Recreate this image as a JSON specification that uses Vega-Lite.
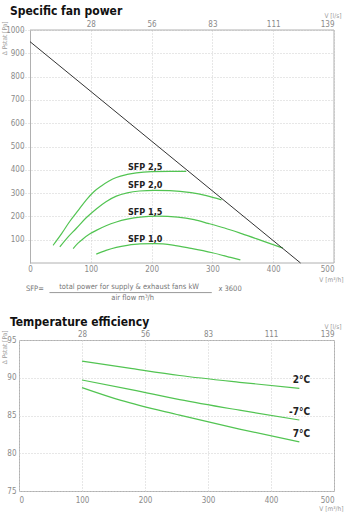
{
  "$schema": "https://vega.github.io/schema/vega-lite/v6.json",
  "background": "white",
  "padding": {"left": 0, "top": 5, "right": 0, "bottom": 0},
  "spacing": 13,
  "config": {
    "font": "DejaVu Sans Condensed",
    "view": {"stroke": "#b0b0b0", "strokeWidth": 1},
    "axis": {
      "labelFont": "DejaVu Sans Condensed",
      "labelFontSize": 8,
      "labelColor": "#8a8a8a",
      "labelOverlap": false,
      "ticks": false,
      "domain": false,
      "domainColor": "#b0b0b0",
      "gridColor": "#cfcfcf",
      "gridDash": [1, 2],
      "titleFont": "DejaVu Sans Condensed",
      "titleFontSize": 6.5,
      "titleFontWeight": "normal",
      "titleColor": "#9a9a9a"
    },
    "title": {"font": "DejaVu Sans Condensed", "fontSize": 12, "fontWeight": "bold", "color": "#111111", "anchor": "start"}
  },
  "vconcat": [
    {
      "title": {"text": "Specific fan power", "dx": 9, "offset": -6},
      "width": 315,
      "height": 233,
      "view": {"stroke": null},
      "resolve": {"axis": {"x": "independent"}},
      "encoding": {
        "y": {"field": "y", "type": "quantitative", "scale": {"domain": [0, 1000], "nice": false},
          "axis": {"values": [100, 200, 300, 400, 500, 600, 700, 800, 900, 1000], "format": "d", "grid": true, "domain": true, "offset": -11, "labelOverlap": false, "labelPadding": 6, "title": "Δ Pstat [Pa]", "titleX": -26, "titleY": -9, "titleAngle": -90, "titleAlign": "right", "titleBaseline": "middle"}}
      },
      "layer": [
        {
          "data": {"values": [
            {"s": "SFP 2,5", "x": 38, "y": 76}, {"s": "SFP 2,5", "x": 52, "y": 126}, {"s": "SFP 2,5", "x": 65, "y": 177}, {"s": "SFP 2,5", "x": 80, "y": 228}, {"s": "SFP 2,5", "x": 93, "y": 272}, {"s": "SFP 2,5", "x": 105, "y": 306}, {"s": "SFP 2,5", "x": 118, "y": 332}, {"s": "SFP 2,5", "x": 130, "y": 352}, {"s": "SFP 2,5", "x": 142, "y": 367}, {"s": "SFP 2,5", "x": 160, "y": 380}, {"s": "SFP 2,5", "x": 175, "y": 387}, {"s": "SFP 2,5", "x": 200, "y": 392}, {"s": "SFP 2,5", "x": 230, "y": 393}, {"s": "SFP 2,5", "x": 257, "y": 393},
            {"s": "SFP 2,0", "x": 49, "y": 69}, {"s": "SFP 2,0", "x": 62, "y": 110}, {"s": "SFP 2,0", "x": 76, "y": 148}, {"s": "SFP 2,0", "x": 92, "y": 193}, {"s": "SFP 2,0", "x": 109, "y": 232}, {"s": "SFP 2,0", "x": 125, "y": 263}, {"s": "SFP 2,0", "x": 142, "y": 287}, {"s": "SFP 2,0", "x": 160, "y": 301}, {"s": "SFP 2,0", "x": 180, "y": 309}, {"s": "SFP 2,0", "x": 205, "y": 312}, {"s": "SFP 2,0", "x": 230, "y": 311}, {"s": "SFP 2,0", "x": 265, "y": 302}, {"s": "SFP 2,0", "x": 290, "y": 289}, {"s": "SFP 2,0", "x": 315, "y": 271},
            {"s": "SFP 1,5", "x": 71, "y": 62}, {"s": "SFP 1,5", "x": 79, "y": 85}, {"s": "SFP 1,5", "x": 87, "y": 103}, {"s": "SFP 1,5", "x": 98, "y": 124}, {"s": "SFP 1,5", "x": 109, "y": 140}, {"s": "SFP 1,5", "x": 125, "y": 160}, {"s": "SFP 1,5", "x": 142, "y": 176}, {"s": "SFP 1,5", "x": 160, "y": 188}, {"s": "SFP 1,5", "x": 181, "y": 197}, {"s": "SFP 1,5", "x": 210, "y": 201}, {"s": "SFP 1,5", "x": 243, "y": 197}, {"s": "SFP 1,5", "x": 270, "y": 186}, {"s": "SFP 1,5", "x": 293, "y": 170}, {"s": "SFP 1,5", "x": 320, "y": 150}, {"s": "SFP 1,5", "x": 348, "y": 126}, {"s": "SFP 1,5", "x": 380, "y": 97}, {"s": "SFP 1,5", "x": 416, "y": 64},
            {"s": "SFP 1,0", "x": 109, "y": 38}, {"s": "SFP 1,0", "x": 125, "y": 54}, {"s": "SFP 1,0", "x": 142, "y": 67}, {"s": "SFP 1,0", "x": 160, "y": 76}, {"s": "SFP 1,0", "x": 181, "y": 82}, {"s": "SFP 1,0", "x": 205, "y": 83}, {"s": "SFP 1,0", "x": 235, "y": 77}, {"s": "SFP 1,0", "x": 265, "y": 63}, {"s": "SFP 1,0", "x": 300, "y": 44}, {"s": "SFP 1,0", "x": 330, "y": 24}, {"s": "SFP 1,0", "x": 346, "y": 13}
          ]},
          "mark": {"type": "line", "interpolate": "monotone", "color": "#52c452", "strokeWidth": 1.2},
          "encoding": {
            "detail": {"field": "s"},
            "x": {"field": "x", "type": "quantitative", "scale": {"domain": [-18.09, 500], "nice": false, "zero": false},
              "axis": {"orient": "bottom", "values": [0, 100, 200, 300, 400, 500], "grid": true, "labelOverlap": false, "labelPadding": 2, "title": "V [m³/h]", "titleX": 324, "titleY": 16, "titleAlign": "right", "titleBaseline": "middle"}}
          }
        },
        {
          "data": {"values": [{"x": 0, "x2": 500, "y": 0, "y2": 0}, {"x": 0, "x2": 500, "y": 1000, "y2": 1000}, {"x": 500, "x2": 500, "y": 0, "y2": 1000}]},
          "mark": {"type": "rule", "color": "#b0b0b0", "strokeWidth": 1},
          "encoding": {
            "x": {"field": "x", "type": "quantitative", "axis": null},
            "x2": {"field": "x2"},
            "y2": {"field": "y2"}
          }
        },
        {
          "data": {"values": [{"x": 0, "y": 950}, {"x": 445, "y": 0}]},
          "mark": {"type": "line", "color": "#333333", "strokeWidth": 1},
          "encoding": {
            "x": {"field": "x", "type": "quantitative",
              "axis": {"orient": "top", "values": [100, 200, 300, 400, 500], "grid": false, "labelOverlap": false, "labelPadding": 2,
                "labelExpr": "datum.value == 100 ? '28' : datum.value == 200 ? '56' : datum.value == 300 ? '83' : datum.value == 400 ? '111' : '139'",
                "title": "V [l/s]", "titleX": 322, "titleY": -15, "titleAlign": "right", "titleBaseline": "middle"}}
          }
        },
        {
          "data": {"values": [
            {"t": "SFP 2,5", "x": 161, "y": 413}, {"t": "SFP 2,0", "x": 161, "y": 334}, {"t": "SFP 1,5", "x": 161, "y": 220}, {"t": "SFP 1,0", "x": 161, "y": 101}
          ]},
          "mark": {"type": "text", "align": "left", "baseline": "middle", "font": "DejaVu Sans Condensed", "fontSize": 9, "fontWeight": "bold", "color": "#222222"},
          "encoding": {
            "x": {"field": "x", "type": "quantitative", "axis": null},
            "text": {"field": "t"}
          }
        },
        {
          "data": {"values": [
            {"t": "SFP=", "x": 8, "y": -112}, {"t": "total power for supply & exhaust fans kW", "x": 163, "y": -101}, {"t": "air flow m³/h", "x": 169, "y": -151}, {"t": "x 3600", "x": 329, "y": -112}
          ]},
          "mark": {"type": "text", "align": "center", "baseline": "middle", "font": "DejaVu Sans Condensed", "fontSize": 7.5, "color": "#777777"},
          "encoding": {
            "x": {"field": "x", "type": "quantitative", "axis": null},
            "text": {"field": "t"}
          }
        },
        {
          "data": {"values": [{"x": 32, "x2": 299, "y": -127}]},
          "mark": {"type": "rule", "color": "#999999", "strokeWidth": 1},
          "encoding": {
            "x": {"field": "x", "type": "quantitative", "axis": null},
            "x2": {"field": "x2"}
          }
        }
      ]
    },
    {
      "title": {"text": "Temperature efficiency", "dx": 9, "offset": -6},
      "width": 315,
      "height": 151,
      "resolve": {"axis": {"x": "independent"}},
      "encoding": {
        "y": {"field": "y", "type": "quantitative", "scale": {"domain": [75, 95], "nice": false, "zero": false},
          "axis": {"values": [75, 80, 85, 90, 95], "grid": true, "labelOverlap": false, "labelPadding": 3, "title": "Δ Pstat [Pa]", "titleX": -15, "titleY": -10, "titleAngle": -90, "titleAlign": "right", "titleBaseline": "middle"}}
      },
      "layer": [
        {
          "data": {"values": [
            {"s": "2°C", "x": 100, "y": 92.2}, {"s": "2°C", "x": 180, "y": 91.2}, {"s": "2°C", "x": 255, "y": 90.3}, {"s": "2°C", "x": 350, "y": 89.4}, {"s": "2°C", "x": 445, "y": 88.6},
            {"s": "-7°C", "x": 100, "y": 89.7}, {"s": "-7°C", "x": 180, "y": 88.4}, {"s": "-7°C", "x": 255, "y": 87.1}, {"s": "-7°C", "x": 350, "y": 85.7}, {"s": "-7°C", "x": 445, "y": 84.4},
            {"s": "7°C", "x": 100, "y": 88.7}, {"s": "7°C", "x": 162, "y": 87.0}, {"s": "7°C", "x": 255, "y": 85.05}, {"s": "7°C", "x": 350, "y": 83.2}, {"s": "7°C", "x": 445, "y": 81.5}
          ]},
          "mark": {"type": "line", "interpolate": "monotone", "color": "#52c452", "strokeWidth": 1.2},
          "encoding": {
            "detail": {"field": "s"},
            "x": {"field": "x", "type": "quantitative", "scale": {"domain": [0, 500], "nice": false},
              "axis": {"orient": "bottom", "values": [0, 100, 200, 300, 400, 500], "grid": true, "labelOverlap": false, "labelPadding": 5, "title": "V [m³/h]", "titleX": 324, "titleY": 17, "titleAlign": "right", "titleBaseline": "middle"}}
          }
        },
        {
          "data": {"values": [
            {"t": "2°C", "x": 462, "y": 89.7}, {"t": "-7°C", "x": 462, "y": 85.45}, {"t": "7°C", "x": 462, "y": 82.6}
          ]},
          "mark": {"type": "text", "align": "right", "baseline": "middle", "font": "DejaVu Sans Condensed", "fontSize": 10, "fontWeight": "bold", "color": "#222222"},
          "encoding": {
            "x": {"field": "x", "type": "quantitative",
              "axis": {"orient": "top", "values": [100, 200, 300, 400, 500], "grid": false, "labelOverlap": false, "labelPadding": 2,
                "labelExpr": "datum.value == 100 ? '28' : datum.value == 200 ? '56' : datum.value == 300 ? '83' : datum.value == 400 ? '111' : '139'",
                "title": "V [l/s]", "titleX": 322, "titleY": -14, "titleAlign": "right", "titleBaseline": "middle"}},
            "text": {"field": "t"}
          }
        }
      ]
    }
  ]
}
